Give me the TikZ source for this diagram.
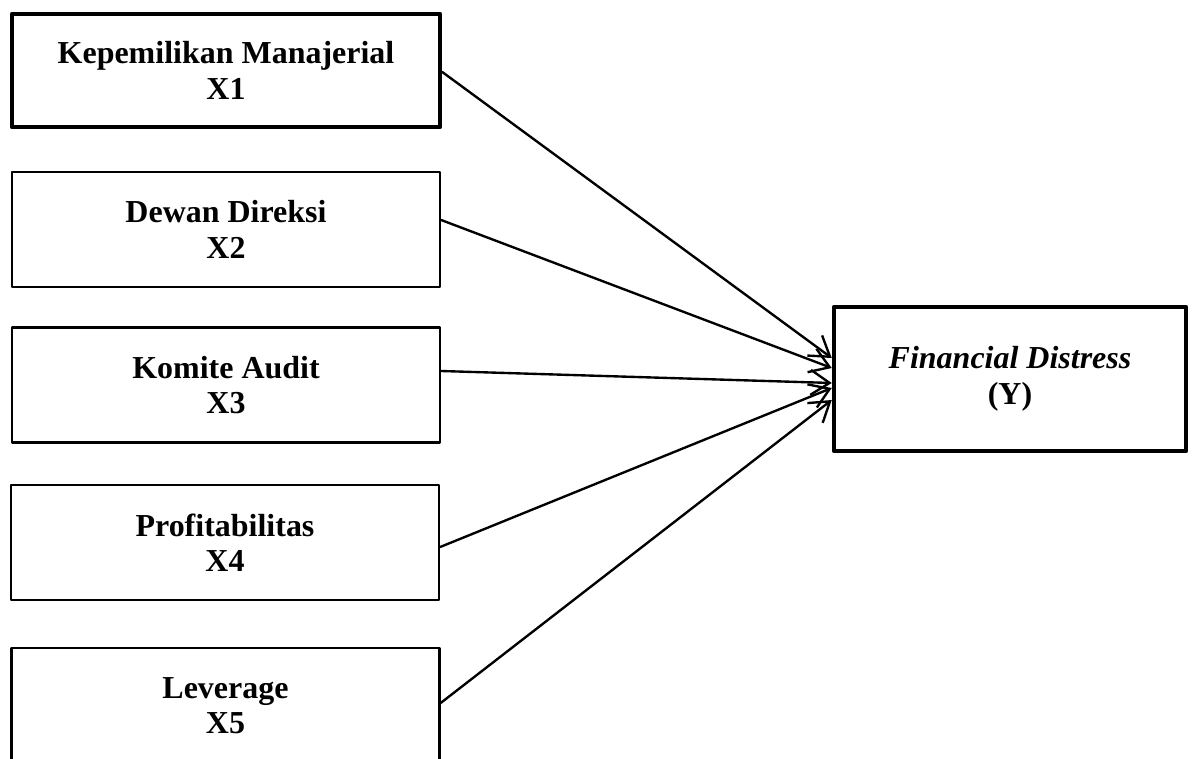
\documentclass[tikz,border=0pt]{standalone}
\usepackage{fontspec}
\setmainfont{Liberation Serif}
\usetikzlibrary{arrows.meta}

\tikzset{varbox/.style={draw=black,line width=1.35pt,minimum width=8.56cm,minimum height=2.3cm,
    align=center,font=\fontsize{18.2}{20.2}\selectfont\bfseries},
  thickbox/.style={varbox,line width=2.6pt},
  link/.style={->,line width=1.35pt}}

\begin{document}
\begin{tikzpicture}[line cap=round,line join=round,>={Straight Barb[length=0.38cm,width=0.5cm]},x=0.02cm,y=0.02cm]
\useasboundingbox (0,0) rectangle (1195,758);
% independent variables
\node[thickbox,minimum height=2.26cm] (x1) at (226,687.5) {Kepemilikan Manajerial\\X1};
\node[varbox] (x2) at (226,528.5) {Dewan Direksi\\X2};
\node[varbox] (x3) at (226,373) {Komite Audit\\X3};
\node[varbox] (x4) at (225,215.5) {Profitabilitas\\X4};
\node[varbox] (x5) at (225.5,52.5) {Leverage\\X5};
% dependent variable
\node[thickbox,minimum width=7.04cm,minimum height=2.88cm] (y) at (1010,379) {\textit{Financial Distress}\\(Y)};
\draw[link] ([yshift=-0.03cm]x1.east) -- ([yshift=0.42cm]y.west);
\draw[link] ([yshift=0.19cm]x2.east) -- ([yshift=0.22cm]y.west);
\draw[link] ([yshift=0.28cm]x3.east) -- ([yshift=-0.08cm]y.west);
\draw[link] ([yshift=-0.09cm]x4.east) -- ([yshift=-0.18cm]y.west);
\draw[link] ([yshift=0.05cm]x5.east) -- ([yshift=-0.42cm]y.west);
\end{tikzpicture}
\end{document}
